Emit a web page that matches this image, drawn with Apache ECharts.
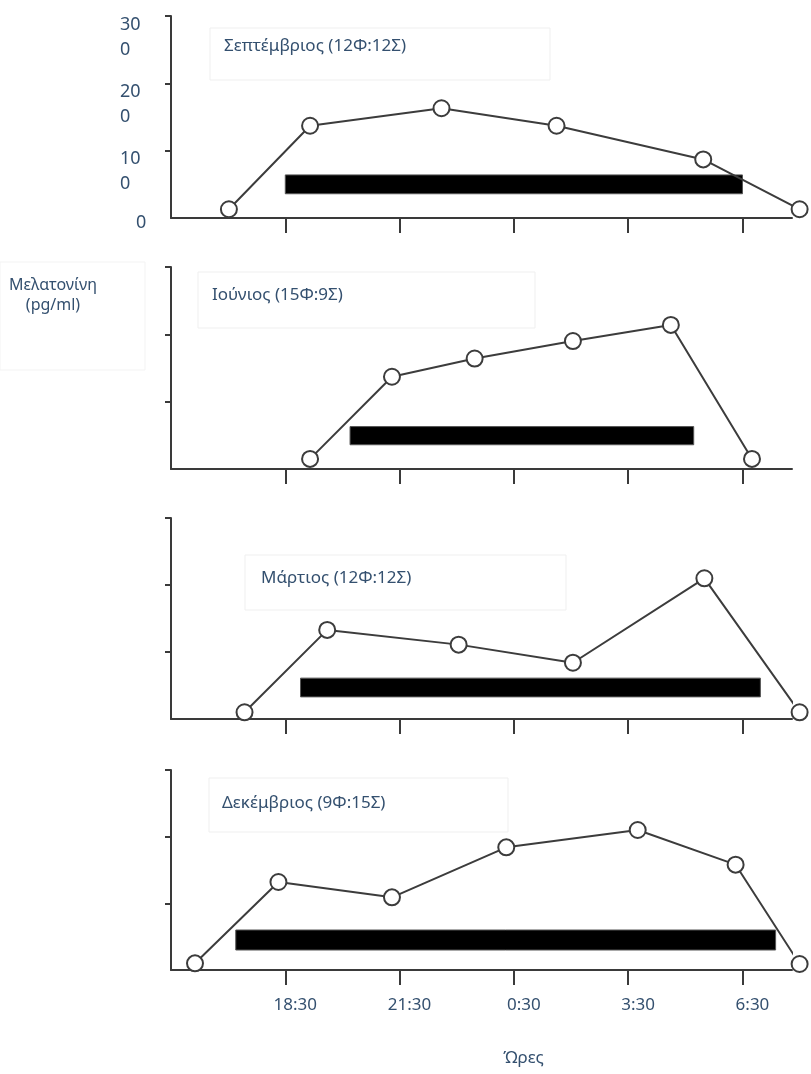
<!DOCTYPE html>
<html>
<head>
<meta charset="utf-8">
<script src="https://cdn.jsdelivr.net/npm/echarts@6/dist/echarts.min.js"></script>
<style>
html,body{margin:0;padding:0;background:#fff;}
#chart{width:811px;height:1074px;}
</style>
</head>
<body>
<div id="chart"></div>
<script>
// ---- data (hours: 18.5 = 18:30, 24.5 = 0:30 next day, 30.5 = 6:30) ----
const tickHours = [18.5, 21.5, 24.5, 27.5, 30.5];
const tickLabels = ['18:30', '21:30', '0:30', '3:30', '6:30'];
const yTickValues = [0, 100, 200, 300];
const yTickLabels = ['0', '100', '200', '300'];
const xAxisTitle = 'Ώρες';
const yAxisTitle = 'Μελατονίνη\n(pg/ml)';
const panelTitles = ['Σεπτέμβριος (12Φ:12Σ)', 'Ιούνιος (15Φ:9Σ)', 'Μάρτιος (12Φ:12Σ)', 'Δεκέμβριος (9Φ:15Σ)'];

const sepHours = [17.02, 19.15, 22.6, 25.62, 29.47, 32.0];
const sepMelatonin = [13, 137, 163, 137, 87, 13];
const sepDark = [18.5, 30.5, 36, 64];   // start, end, bar low, bar high

const junHours = [19.15, 21.3, 23.47, 26.05, 28.62, 30.75];
const junMelatonin = [15, 137, 164, 190, 214, 15];
const junDark = [20.2, 29.22, 36, 63];

const marHours = [17.43, 19.6, 23.05, 26.05, 29.5, 32.0];
const marMelatonin = [10, 133, 111, 84, 210, 10];
const marDark = [18.9, 30.97, 33, 61];

const decHours = [16.13, 18.32, 21.3, 24.3, 27.75, 30.32, 32.0];
const decMelatonin = [10, 132, 109, 184, 210, 158, 9];
const decDark = [17.2, 31.37, 30, 60];

// ---- layout ----
const panels = [
  {hours: sepHours, mel: sepMelatonin, dark: sepDark, top: 16, height: 202},
  {hours: junHours, mel: junMelatonin, dark: junDark, top: 267, height: 202},
  {hours: marHours, mel: marMelatonin, dark: marDark, top: 518, height: 201},
  {hours: decHours, mel: decMelatonin, dark: decDark, top: 770, height: 200}
];
const textColor = '#34506f';
const axisColor = '#3a3a3a';
const FONT = 'Noto Sans';

const grid = [], xAxis = [], yAxis = [], series = [];
panels.forEach((p, i) => {
  grid.push({left: 171, width: 621, top: p.top, height: p.height, containLabel: false, outerBoundsMode: 'none'});
  const last = i === panels.length - 1;
  xAxis.push({
    type: 'value', gridIndex: i, min: 15.5, max: 31.8,
    axisLine: {show: true, lineStyle: {color: axisColor, width: 2}},
    axisTick: {show: true, length: 15, customValues: tickHours, lineStyle: {color: axisColor, width: 2}},
    splitLine: {show: false},
    axisLabel: {
      show: last, customValues: tickHours, margin: 27, hideOverlap: false,
      color: textColor, fontSize: 17, fontFamily: FONT, padding: [0, 0, 0, 20],
      formatter: v => tickLabels[tickHours.indexOf(v)]
    },
    name: last ? xAxisTitle : '', nameLocation: 'middle', nameGap: 80,
    nameTextStyle: {color: textColor, fontSize: 17, fontFamily: FONT, padding: [0, 0, 0, 84]}
  });
  yAxis.push({
    type: 'value', gridIndex: i, min: 0, max: 300, interval: 100,
    axisLine: {show: true, lineStyle: {color: axisColor, width: 2}},
    axisTick: {show: true, length: 6, customValues: [100, 200, 300], lineStyle: {color: axisColor, width: 2}},
    splitLine: {show: false},
    axisLabel: {
      show: i === 0, showMaxLabel: true, showMinLabel: true, hideOverlap: false,
      align: 'left', margin: 51, verticalAlign: 'top',
      color: textColor, fontSize: 18, fontFamily: FONT,
      formatter: v => {
        const s = yTickLabels[yTickValues.indexOf(v)];
        if (s.length === 1) return '{z|' + s + '}';
        return '{a|' + s.slice(0, -1) + '}\n{b|' + s.slice(-1) + '}';
      },
      rich: {
        a: {lineHeight: 17, fontSize: 18, color: textColor, fontFamily: FONT},
        b: {lineHeight: 33, fontSize: 18, color: textColor, fontFamily: FONT},
        z: {lineHeight: 9, fontSize: 18, color: textColor, fontFamily: FONT, padding: [0, 0, 0, 16]}
      }
    }
  });
  series.push({
    type: 'custom', xAxisIndex: i, yAxisIndex: i, z: 2,
    data: [p.dark],
    encode: {x: [0, 1], y: [2, 3]},
    renderItem: (params, api) => {
      const a = api.coord([api.value(0), api.value(3)]);
      const b = api.coord([api.value(1), api.value(2)]);
      return {type: 'rect', shape: {x: a[0], y: a[1], width: b[0] - a[0], height: b[1] - a[1]},
              style: {fill: '#000', stroke: '#555', lineWidth: 1}};
    }
  });
  series.push({
    type: 'line', xAxisIndex: i, yAxisIndex: i, z: 5, clip: false,
    data: p.hours.map((h, k) => [h, p.mel[k]]),
    symbol: 'circle', symbolSize: 16,
    lineStyle: {color: '#3c3c3c', width: 2},
    itemStyle: {color: '#fff', borderColor: '#3c3c3c', borderWidth: 2}
  });
});

// title boxes (text positions from the slide)
const boxes = [
  {x: 210, y: 28, w: 340, h: 52, tx: 224, ty: 46},
  {x: 198, y: 272, w: 337, h: 56, tx: 212, ty: 295},
  {x: 245, y: 555, w: 321, h: 55, tx: 261, ty: 578},
  {x: 209, y: 778, w: 299, h: 54, tx: 222, ty: 803}
];
const graphic = [];
boxes.forEach((b, i) => {
  graphic.push({type: 'rect', shape: {x: b.x, y: b.y, width: b.w, height: b.h},
                style: {fill: 'none', stroke: '#efefef', lineWidth: 1}, z: 1});
  graphic.push({type: 'text', x: b.tx, y: b.ty,
                style: {text: panelTitles[i], fill: textColor, font: '17px "' + FONT + '"',
                        textAlign: 'left', textVerticalAlign: 'middle'}, z: 10});
});
graphic.push({type: 'rect', shape: {x: 0, y: 262, width: 145, height: 108},
              style: {fill: 'none', stroke: '#f3f3f3', lineWidth: 1}, z: 1});
graphic.push({type: 'text', x: 53, y: 295,
              style: {text: yAxisTitle, fill: textColor, font: '16px "' + FONT + '"',
                      textAlign: 'center', textVerticalAlign: 'middle', lineHeight: 20}, z: 10});

const chart = echarts.init(document.getElementById('chart'), null, {renderer: 'canvas'});
chart.setOption({
  backgroundColor: '#fff',
  animation: false,
  grid, xAxis, yAxis, series, graphic
});
</script>
</body>
</html>
